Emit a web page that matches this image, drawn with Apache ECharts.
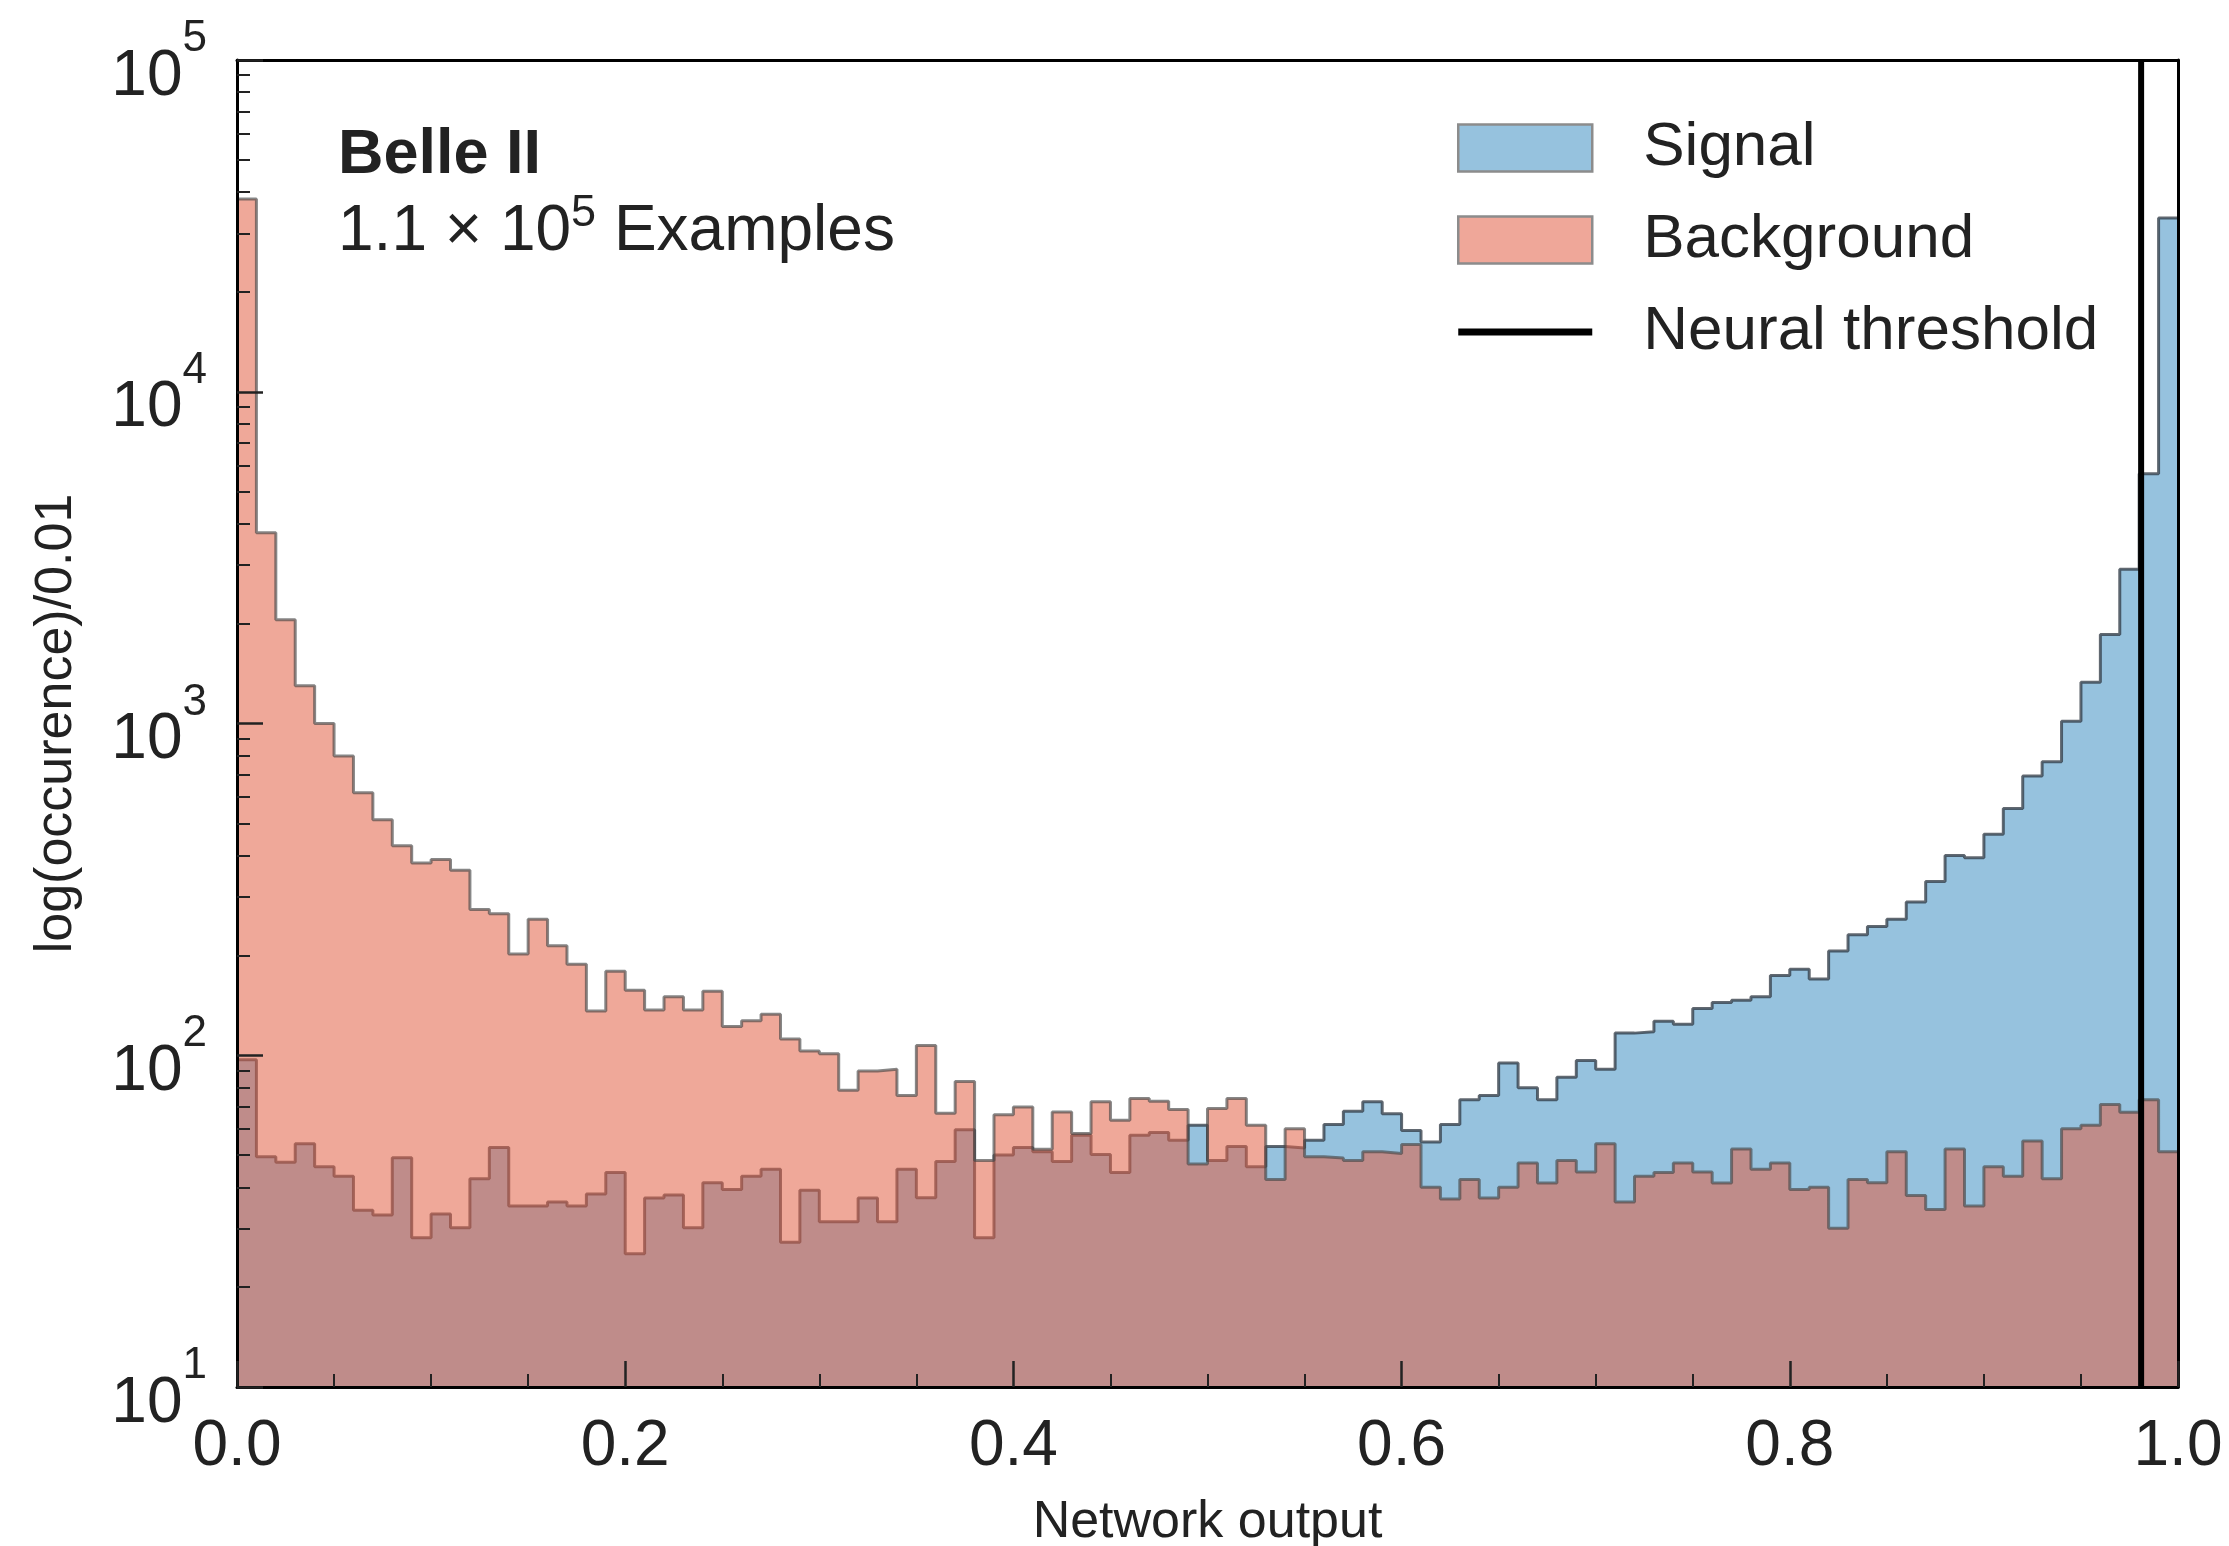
<!DOCTYPE html>
<html>
<head>
<meta charset="utf-8">
<title>Network output</title>
<script src="https://cdn.jsdelivr.net/npm/echarts@6/dist/echarts.min.js"></script>
<style>
  html, body { margin: 0; padding: 0; background: #fff; }
  #chart { width: 2229px; height: 1546px; }
</style>
</head>
<body>
<div id="chart"></div>
<script>
// 100 bins of width 0.01 on [0, 1]
const binWidth = 0.01

const signalCounts = [
  97, 49.4, 47.6, 54.1, 46.1, 43.2, 34.1, 33.0, 49.1, 28.2,
  33.2, 30.2, 42.4, 52.7, 35.1, 35.1, 36.1, 35.1, 38.2, 44.3,
  25.2, 37.1, 37.9, 30.2, 41.3, 39.4, 43.2, 45.3, 27.3, 39.2,
  31.5, 31.5, 37.1, 31.5, 45.3, 37.2, 47.8, 59.6, 28.2, 50.0,
  52.7, 51.2, 47.8, 57.4, 50.2, 44.3, 57.4, 58.5, 55.4, 61.5,
  48.2, 53.1, 46.1, 53.1, 52.5, 55.4, 61.8, 67.8, 72.4, 66.6,
  59.3, 54.8, 61.8, 73.4, 75.6, 94.8, 79.8, 73.4, 85.8, 96.4,
  90.8, 116.6, 117.8, 126.7, 124.0, 138.3, 144.1, 146.6, 150.2, 173.8,
  181.5, 169.7, 206.2, 230.6, 244.3, 257.1, 289.9, 333.8, 400, 394,
  464, 554, 695, 767, 1016, 1332, 1854, 2916, 5657, 33400
]

const backgroundCounts = [
  38100, 3760, 2056, 1300, 1000, 798, 618, 513, 428, 380,
  389, 361, 275, 267, 202, 257, 214, 188, 136, 179,
  157, 137, 150, 137, 156, 122, 127, 133, 112, 103,
  101, 78.4, 89.6, 90.8, 75.6, 107, 66.9, 83.4, 48.2, 66.2,
  69.8, 52.1, 67.5, 58.1, 72.4, 63.7, 74.1, 72.7, 68.6, 47.0,
  69.1, 74.1, 61.5, 42.2, 60.0, 49.4, 49.0, 48.2, 51.2, 50.6,
  53.8, 40.0, 36.9, 42.2, 37.1, 40.0, 47.3, 41.2, 48.2, 44.5,
  54.1, 36.1, 43.2, 44.3, 47.3, 44.5, 41.2, 52.2, 45.3, 47.3,
  39.4, 40.0, 30.1, 42.2, 41.3, 51.2, 37.8, 34.3, 52.2, 35.1,
  46.1, 43.2, 55.1, 42.4, 60.0, 61.5, 71.1, 67.3, 73.4, 51.2
]

const thresholdX = 0.981

const yMin = 10
const yMax = 100000
const yMinorTicks = [
  20, 30, 40, 50, 60, 70, 80, 90,
  200, 300, 400, 500, 600, 700, 800, 900,
  2000, 3000, 4000, 5000, 6000, 7000, 8000, 9000,
  20000, 30000, 40000, 50000, 60000, 70000, 80000, 90000
]

const font = 'Liberation Sans, Arial, Helvetica, sans-serif'
const textColor = '#222'

// histogram outline: a point at each bin's left edge, plus the right edge of the last bin
const toSteps = (counts) => {
  const pts = counts.map((v, i) => [+(i * binWidth).toFixed(2), v])
  pts.push([+(counts.length * binWidth).toFixed(2), counts[counts.length - 1]])
  return pts
}

const chart = echarts.init(document.getElementById('chart'))

const spine = { show: true, onZero: false, lineStyle: { color: '#000', width: 3 } }

const option = {
  animation: false,
  backgroundColor: '#fff',
  grid: { left: 237, right: 51, top: 60, bottom: 159, containLabel: false, outerBoundsMode: 'none' },
  legend: {
    orient: 'vertical',
    left: 1457,
    top: 117,
    padding: 0,
    itemWidth: 134,
    itemHeight: 47,
    itemGap: 30,
    selectedMode: false,
    textStyle: { fontFamily: font, fontSize: 62, color: textColor, padding: [0, 0, 0, 46] },
    data: [
      { name: 'Signal', icon: 'rect', itemStyle: { color: '#96c2de', borderColor: '#8c8c8c', borderWidth: 2.5 } },
      { name: 'Background', icon: 'rect', itemStyle: { color: '#efa799', borderColor: '#8c8c8c', borderWidth: 2.5 } },
      { name: 'Neural threshold', icon: 'path://M0,0 L134,0 L134,7 L0,7 Z', itemStyle: { color: '#000', borderWidth: 0 } }
    ]
  },
  graphic: [
    {
      type: 'text',
      left: 338,
      top: 124,
      style: { text: 'Belle II', font: 'bold 63px ' + font, fill: textColor }
    },
    {
      type: 'text',
      left: 338,
      top: 191,
      style: {
        text: '{n|1.1 × 10}{s|5}{n| Examples}',
        fill: textColor,
        rich: {
          n: { fontFamily: font, fontSize: 64, lineHeight: 64, verticalAlign: 'bottom', color: textColor },
          s: { fontFamily: font, fontSize: 45, lineHeight: 45, verticalAlign: 'bottom', padding: [0, 0, 28, 0], color: textColor }
        }
      }
    }
  ],
  xAxis: [
    {
      type: 'value',
      min: 0,
      max: 1,
      interval: 0.2,
      name: 'Network output',
      nameLocation: 'middle',
      nameGap: 110,
      nameTextStyle: { fontFamily: font, fontSize: 52, color: textColor },
      axisLine: spine,
      axisTick: { show: true, inside: true, length: 26, lineStyle: { color: '#222', width: 2.5 } },
      minorTick: { show: true, splitNumber: 4, length: 13, lineStyle: { color: '#222', width: 2 } },
      axisLabel: { formatter: (v) => v.toFixed(1), fontFamily: font, fontSize: 64, color: textColor, margin: 28 },
      splitLine: { show: false },
      minorSplitLine: { show: false },
      z: 10
    },
    {
      type: 'value',
      position: 'top',
      min: 0,
      max: 1,
      axisLine: spine,
      axisTick: { show: false },
      axisLabel: { show: false },
      splitLine: { show: false },
      z: 10
    }
  ],
  yAxis: [
    {
      type: 'log',
      logBase: 10,
      min: yMin,
      max: yMax,
      position: 'left',
      name: 'log(occurence)/0.01',
      nameLocation: 'middle',
      nameGap: 154,
      nameTextStyle: { fontFamily: font, fontSize: 52, color: textColor },
      axisLine: spine,
      axisTick: { show: true, inside: true, length: 26, lineStyle: { color: '#222', width: 2.5 } },
      axisLabel: {
        showMinLabel: true,
        showMaxLabel: true,
        margin: 30,
        padding: [34, 0, 0, 0],
        formatter: (v) => '{b|10}{s|' + Math.round(Math.log10(v)) + '}',
        rich: {
          b: { fontFamily: font, fontSize: 64, lineHeight: 64, verticalAlign: 'bottom', color: textColor },
          s: { fontFamily: font, fontSize: 44, lineHeight: 44, verticalAlign: 'bottom', padding: [0, 0, 48, 0], color: textColor }
        }
      },
      splitLine: { show: false },
      z: 10
    },
    {
      type: 'log',
      logBase: 10,
      min: yMin,
      max: yMax,
      position: 'left',
      axisLine: { show: false },
      axisTick: { show: true, inside: true, length: 13, customValues: yMinorTicks, lineStyle: { color: '#222', width: 2 } },
      axisLabel: { show: false },
      splitLine: { show: false },
      z: 10
    },
    {
      type: 'log',
      logBase: 10,
      min: yMin,
      max: yMax,
      position: 'right',
      axisLine: spine,
      axisTick: { show: false },
      axisLabel: { show: false },
      splitLine: { show: false },
      z: 10
    }
  ],
  series: [
    {
      name: 'Signal',
      type: 'line',
      step: 'end',
      data: toSteps(signalCounts),
      symbol: 'none',
      itemStyle: { color: '#96c2de' },
      lineStyle: { color: 'rgba(45, 55, 65, 0.75)', width: 3 },
      areaStyle: { color: '#96c2de', opacity: 1, origin: 'start' },
      z: 2
    },
    {
      name: 'Background',
      type: 'line',
      step: 'end',
      data: toSteps(backgroundCounts),
      symbol: 'none',
      itemStyle: { color: '#efa799' },
      lineStyle: { color: 'rgba(70, 70, 70, 0.65)', width: 3 },
      areaStyle: { color: 'rgba(226, 96, 70, 0.55)', opacity: 1, origin: 'start' },
      z: 3
    },
    {
      name: 'Neural threshold',
      type: 'line',
      data: [[thresholdX, yMin], [thresholdX, yMax]],
      symbol: 'none',
      itemStyle: { color: '#000' },
      lineStyle: { color: '#000', width: 6 },
      z: 4
    }
  ]
}

chart.setOption(option)
</script>
</body>
</html>
